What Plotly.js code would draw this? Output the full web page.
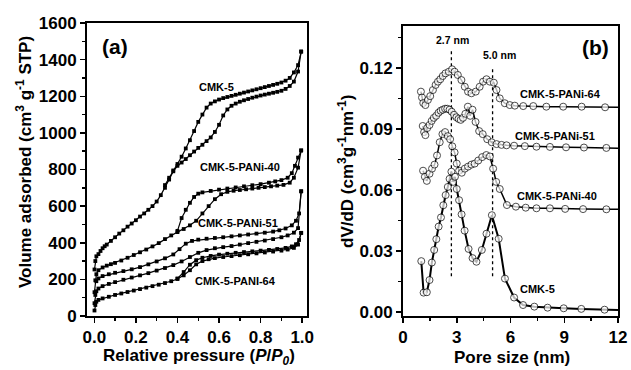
<!DOCTYPE html>
<html>
<head>
<meta charset="utf-8">
<script src="https://cdn.plot.ly/plotly-3.0.1.min.js"></script>
<style>html,body{margin:0;padding:0;background:#fff;}#chart{width:631px;height:370px;}</style>
</head>
<body>
<div id="chart"></div>
<script>
// ---------- Panel (a): N2 isotherms ----------
const cmk5AdsX = [0.001,0.005,0.01,0.02,0.03,0.04,0.05,0.06,0.08,0.10,0.12,0.14,0.16,0.18,0.20,0.22,0.24,0.26,0.28,0.30,0.32,0.34,0.36,0.38,0.40,0.42,0.44,0.46,0.48,0.50,0.52,0.54,0.56,0.58,0.60,0.62,0.64,0.66,0.68,0.70,0.72,0.74,0.76,0.78,0.80,0.82,0.84,0.86,0.88,0.90,0.92,0.94,0.96,0.98,0.995];
const cmk5AdsV = [254,300,326,338,355,370,381,390,410,430,450,468,488,505,523,543,560,580,600,625,660,700,745,790,820,838,857,878,898,918,935,955,975,1005,1044,1095,1128,1148,1160,1170,1178,1185,1192,1198,1204,1209,1214,1219,1224,1230,1240,1256,1280,1335,1444];
const cmk5DesX = [0.995,0.98,0.96,0.94,0.92,0.90,0.88,0.86,0.84,0.82,0.80,0.78,0.76,0.74,0.72,0.70,0.68,0.66,0.64,0.62,0.60,0.58,0.56,0.54,0.52,0.50,0.48,0.46,0.44,0.42,0.40,0.38,0.36,0.34];
const cmk5DesV = [1444,1370,1330,1300,1285,1275,1268,1262,1256,1250,1244,1238,1232,1226,1220,1214,1208,1202,1196,1190,1182,1172,1160,1138,1100,1060,1010,960,915,870,830,795,755,715];

const p40AdsX = [0.001,0.005,0.01,0.02,0.04,0.06,0.08,0.10,0.13,0.16,0.19,0.22,0.25,0.28,0.31,0.34,0.37,0.40,0.43,0.46,0.49,0.52,0.55,0.58,0.61,0.64,0.67,0.70,0.73,0.76,0.79,0.82,0.85,0.88,0.91,0.94,0.96,0.98,0.995];
const p40AdsV = [130,195,228,250,265,275,283,290,303,318,333,348,363,380,398,420,440,458,475,495,520,560,600,638,665,678,684,688,692,696,700,704,708,712,716,728,755,810,904];
const p40DesX = [0.995,0.98,0.965,0.95,0.93,0.90,0.87,0.84,0.80,0.76,0.72,0.68,0.64,0.60,0.56,0.52,0.50,0.48,0.46,0.44,0.42,0.40];
const p40DesV = [904,865,820,780,755,742,735,728,720,714,708,702,696,690,683,675,668,650,618,580,535,465];

const p51AdsX = [0.001,0.005,0.01,0.02,0.04,0.07,0.10,0.14,0.18,0.22,0.26,0.30,0.34,0.38,0.42,0.46,0.50,0.54,0.58,0.62,0.66,0.70,0.74,0.78,0.82,0.86,0.90,0.93,0.96,0.98,0.995];
const p51AdsV = [70,115,135,150,163,175,185,198,210,222,234,248,262,278,298,322,345,360,370,376,382,390,398,405,412,420,430,440,455,480,681];
const p51DesX = [0.995,0.985,0.97,0.95,0.92,0.89,0.86,0.82,0.78,0.74,0.70,0.66,0.62,0.58,0.54,0.50,0.47,0.44,0.41,0.38,0.34,0.30,0.26,0.22,0.18,0.14,0.10,0.07,0.04,0.02,0.01];
const p51DesV = [681,560,520,495,478,468,461,455,450,445,440,435,430,426,422,417,410,395,365,336,315,298,282,267,255,245,236,228,218,205,190];

const p64AdsX = [0.001,0.005,0.01,0.02,0.04,0.07,0.10,0.13,0.16,0.19,0.22,0.25,0.28,0.31,0.34,0.37,0.40,0.43,0.46,0.49,0.52,0.55,0.58,0.62,0.66,0.70,0.74,0.78,0.82,0.86,0.90,0.93,0.96,0.98,0.995];
const p64AdsV = [30,60,78,88,96,105,115,123,131,139,147,155,163,171,180,190,202,222,250,282,300,310,316,322,327,332,337,342,347,352,357,363,372,390,454];
const p64DesX = [0.995,0.985,0.97,0.95,0.92,0.88,0.84,0.80,0.76,0.72,0.68,0.64,0.60,0.56,0.52,0.49,0.46,0.43,0.40];
const p64DesV = [454,415,392,380,372,366,361,357,353,349,345,340,335,328,318,305,280,240,205];

// ---------- Panel (b): pore size distributions ----------
const psdCmk5D = [1.02,1.15,1.33,1.48,1.61,1.74,1.86,1.99,2.12,2.25,2.38,2.5,2.6,2.7,2.8,2.9,3.0,3.13,3.27,3.44,3.66,3.88,4.1,4.4,4.66,4.96,5.34,5.69,6.2,6.7,7.33,8.07,8.97,9.95,11.25,12.0];
const psdCmk5V = [0.025,0.0095,0.0097,0.0157,0.0243,0.0305,0.0358,0.042,0.0465,0.0525,0.0575,0.0615,0.0655,0.069,0.064,0.0665,0.0605,0.055,0.048,0.040,0.031,0.0265,0.0247,0.0305,0.0385,0.0476,0.036,0.0164,0.0071,0.0034,0.0026,0.0021,0.0018,0.0015,0.0011,0.001];

const psd40D = [1.12,1.22,1.33,1.48,1.62,1.76,1.9,2.05,2.2,2.35,2.5,2.63,2.75,2.88,3.0,3.13,3.28,3.45,3.63,3.82,4.0,4.2,4.42,4.65,4.85,5.03,5.2,5.4,5.8,6.3,6.85,7.45,8.2,9.05,10.05,11.35,12.0];
const psd40V = [0.0695,0.0665,0.0645,0.068,0.0705,0.0725,0.077,0.0835,0.0875,0.0885,0.0865,0.085,0.0815,0.0785,0.073,0.0695,0.0685,0.0705,0.0715,0.0725,0.073,0.0745,0.0762,0.0772,0.0765,0.0705,0.064,0.0605,0.0526,0.0518,0.0513,0.051,0.051,0.0507,0.0506,0.0505,0.0505];

const psd51D = [1.1,1.18,1.25,1.35,1.48,1.6,1.72,1.85,1.98,2.1,2.22,2.35,2.47,2.6,2.72,2.85,2.98,3.1,3.22,3.35,3.48,3.62,3.75,3.88,4.05,4.25,4.45,4.7,4.95,5.22,5.5,5.78,6.2,6.8,7.45,8.2,9.1,10.1,11.35,12.0];
const psd51V = [0.0915,0.0885,0.087,0.0905,0.092,0.094,0.0955,0.0965,0.098,0.099,0.0995,0.1,0.1,0.0995,0.0985,0.097,0.0958,0.095,0.0945,0.0955,0.0975,0.101,0.0965,0.0995,0.0935,0.089,0.0875,0.085,0.0835,0.0826,0.0822,0.082,0.0818,0.0816,0.0813,0.0812,0.081,0.0809,0.0807,0.0806];

const psd64D = [1.0,1.06,1.13,1.25,1.39,1.52,1.67,1.82,1.95,2.08,2.22,2.37,2.56,2.74,2.88,3.06,3.26,3.45,3.63,3.82,4.06,4.28,4.47,4.66,4.85,5.07,5.22,5.4,5.68,5.96,6.24,6.71,7.27,8.0,8.94,9.97,11.28,12.0];
const psd64V = [0.1084,0.1055,0.1028,0.1018,0.1043,0.1062,0.1092,0.1117,0.1133,0.1145,0.1161,0.1174,0.1182,0.1194,0.1182,0.1166,0.1141,0.1108,0.1084,0.1076,0.1084,0.1108,0.1133,0.1145,0.1133,0.1128,0.1092,0.1051,0.1027,0.1018,0.1015,0.1013,0.1013,0.101,0.101,0.101,0.1007,0.1007];

const peakPos = [2.7, 5.0];
const peakLabels = ['2.7 nm', '5.0 nm'];
const peakTop = [0.1297, 0.1202];
const peakBottom = 0.0175;

const isoLabels = ['CMK-5','CMK-5-PANi-40','CMK-5-PANi-51','CMK-5-PANI-64'];
const psdLabels = ['CMK-5','CMK-5-PANi-40','CMK-5-PANi-51','CMK-5-PANi-64'];

// ---------- traces ----------
const traces = [];
function iso(x, y) {
  traces.push({x: x, y: y, xaxis: 'x', yaxis: 'y', type: 'scatter', mode: 'lines+markers',
    line: {color: '#000', width: 1.2},
    marker: {symbol: 'square', size: 3.8, color: '#000'},
    cliponaxis: true, showlegend: false, hoverinfo: 'skip'});
}
iso(cmk5AdsX, cmk5AdsV); iso(cmk5DesX, cmk5DesV);
iso(p40AdsX, p40AdsV); iso(p40DesX, p40DesV);
iso(p51AdsX, p51AdsV); iso(p51DesX, p51DesV);
iso(p64AdsX, p64AdsV); iso(p64DesX, p64DesV);

function psd(x, y, w) {
  const sizes = x.map((v) => (v >= 12 ? 0 : 7));
  traces.push({x: x, y: y, xaxis: 'x2', yaxis: 'y2', type: 'scatter', mode: 'lines+markers',
    line: {color: '#000', width: w},
    marker: {symbol: 'circle', size: sizes, color: '#ffffff', line: {color: '#000', width: 1}},
    showlegend: false, hoverinfo: 'skip'});
}
// dashed guide lines first (under markers)
peakPos.forEach((p, i) => {
  traces.push({x: [p, p], y: [peakBottom, peakTop[i]], xaxis: 'x2', yaxis: 'y2', type: 'scatter', mode: 'lines',
    line: {color: '#000', width: 1.3, dash: 'dot'}, showlegend: false, hoverinfo: 'skip'});
});
psd(psdCmk5D, psdCmk5V, 2);
psd(psd40D, psd40V, 1.5);
psd(psd51D, psd51V, 1.5);
psd(psd64D, psd64V, 1.5);

// ---------- layout ----------
const FAM = 'Arial, Liberation Sans, sans-serif';
const tickFont = {family: FAM, size: 17, color: '#000', weight: 'bold'};
const baseAxis = {showline: true, mirror: true, linecolor: '#000', linewidth: 2,
  ticks: 'outside', ticklen: 5, tickwidth: 1.5, tickcolor: '#000',
  showgrid: false, zeroline: false, tickfont: tickFont, fixedrange: true};

const W = 631, H = 370;
const px = v => v / W, py = v => 1 - v / H;

const layout = {
  width: W, height: H, margin: {l: 0, r: 0, t: 0, b: 0},
  paper_bgcolor: '#fff', plot_bgcolor: '#fff',
  font: {family: FAM, color: '#000', size: 12},
  xaxis: Object.assign({}, baseAxis, {domain: [px(87), px(307)], range: [-0.035, 1.023],
    tick0: 0, dtick: 0.2, tickformat: '.1f', anchor: 'y',
    minor: {ticks: 'outside', ticklen: 3, tickwidth: 1.5, tickcolor: '#000', dtick: 0.1, tick0: 0}}),
  yaxis: Object.assign({}, baseAxis, {domain: [py(316), py(23)], range: [0, 1600],
    tick0: 0, dtick: 200, anchor: 'x',
    minor: {ticks: 'outside', ticklen: 3, tickwidth: 1.5, tickcolor: '#000', dtick: 100, tick0: 0}}),
  xaxis2: Object.assign({}, baseAxis, {domain: [px(403), px(618)], range: [0, 12],
    tick0: 0, dtick: 3, anchor: 'y2',
    minor: {ticks: 'outside', ticklen: 3, tickwidth: 1.5, tickcolor: '#000', dtick: 1.5, tick0: 0}}),
  yaxis2: Object.assign({}, baseAxis, {domain: [py(316), py(26)], range: [-0.002, 0.1407],
    tick0: 0, dtick: 0.03, tickformat: '.2f', anchor: 'x2',
    minor: {ticks: 'outside', ticklen: 3, tickwidth: 1.5, tickcolor: '#000', dtick: 0.015, tick0: 0}}),
  annotations: [],
  showlegend: false
};

const A = layout.annotations;
const lblFont = {family: FAM, size: 11, color: '#000', weight: 'bold'};
const titleFont = {family: FAM, size: 17, color: '#000', weight: 'bold'};

// panel letters
A.push({xref: 'paper', yref: 'paper', x: px(100), y: py(46), xanchor: 'left', yanchor: 'middle', showarrow: false,
  text: '(a)', font: {family: FAM, size: 21, color: '#000', weight: 'bold'}});
A.push({xref: 'paper', yref: 'paper', x: px(611), y: py(47), xanchor: 'right', yanchor: 'middle', showarrow: false,
  text: '(b)', font: {family: FAM, size: 21, color: '#000', weight: 'bold'}});

// curve labels (a)
const isoLabelPos = [[0.59, 1250], [0.70, 815], [0.69, 510], [0.68, 190]];
isoLabels.forEach((t, i) => A.push({xref: 'x', yref: 'y', x: isoLabelPos[i][0], y: isoLabelPos[i][1],
  text: t, showarrow: false, font: lblFont, xanchor: 'center', yanchor: 'middle'}));
// curve labels (b)
const psdLabelPos = [[7.5, 0.0115], [8.6, 0.0568], [8.5, 0.0868], [8.8, 0.1073]];
psdLabels.forEach((t, i) => A.push({xref: 'x2', yref: 'y2', x: psdLabelPos[i][0], y: psdLabelPos[i][1],
  text: t, showarrow: false, font: lblFont, xanchor: 'center', yanchor: 'middle'}));
// peak labels
const peakLabelPos = [[2.79, 0.1338], [5.36, 0.1264]];
peakLabels.forEach((t, i) => A.push({xref: 'x2', yref: 'y2', x: peakLabelPos[i][0], y: peakLabelPos[i][1],
  text: t, showarrow: false, font: {family: FAM, size: 10.5, color: '#000', weight: 'bold'},
  xanchor: 'center', yanchor: 'middle'}));

// axis titles
A.push({xref: 'paper', yref: 'paper', x: px(199), y: py(357), showarrow: false, font: titleFont,
  text: 'Relative pressure (<i>P</i>/<i>P</i><sub><i>0</i></sub>)', xanchor: 'center', yanchor: 'middle'});
A.push({xref: 'paper', yref: 'paper', x: px(24), y: py(162), showarrow: false, font: titleFont, textangle: -90,
  text: 'Volume adsorbed (cm<sup>3</sup> g<sup>-1</sup> STP)', xanchor: 'center', yanchor: 'middle'});
A.push({xref: 'paper', yref: 'paper', x: px(512), y: py(357), showarrow: false, font: titleFont,
  text: 'Pore size (nm)', xanchor: 'center', yanchor: 'middle'});
A.push({xref: 'paper', yref: 'paper', x: px(346), y: py(172), showarrow: false, font: titleFont, textangle: -90,
  text: 'dV/dD (cm<sup>3</sup>g<sup>-1</sup>nm<sup>-1</sup>)', xanchor: 'center', yanchor: 'middle'});

Plotly.newPlot('chart', traces, layout, {staticPlot: true, displayModeBar: false});
</script>
</body>
</html>
